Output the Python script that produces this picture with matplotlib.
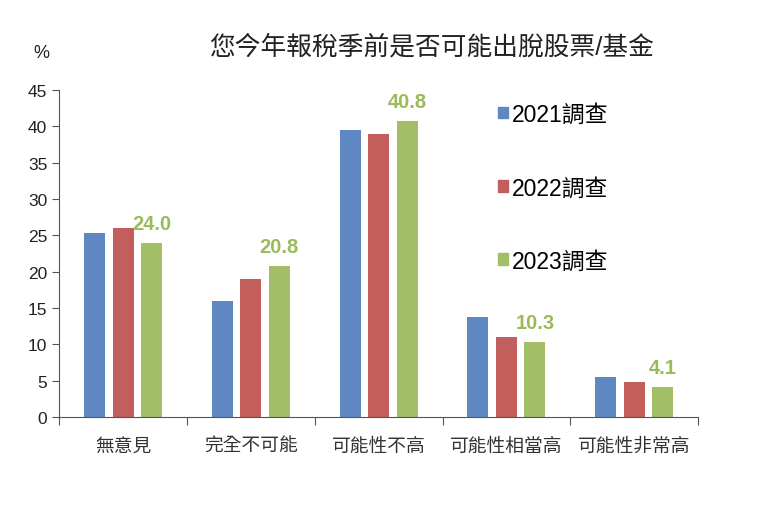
import numpy as np
import matplotlib
matplotlib.use("Agg")
import matplotlib.pyplot as plt
from matplotlib.patches import Patch

plt.rcParams["font.family"] = ["Liberation Sans", "Noto Sans CJK TC"]

categories = ["無意見", "完全不可能", "可能性不高", "可能性相當高", "可能性非常高"]
series_names = ["2021調查", "2022調查", "2023調查"]
values_2021 = [25.3, 16.0, 39.5, 13.7, 5.5]
values_2022 = [26.0, 19.0, 39.0, 11.0, 4.8]
values_2023 = [24.0, 20.8, 40.8, 10.3, 4.1]
colors = ["#5F87C2", "#C25E5B", "#A2BE66"]

fig = plt.figure(figsize=(7.58, 5.06), dpi=100)
ax = fig.add_axes([0.078, 0.174, 0.843, 0.646])

centers = np.arange(len(categories)) + 0.5
step = 0.223
width = 0.164
all_series = [values_2021, values_2022, values_2023]
for i, vals in enumerate(all_series):
    ax.bar(centers + (i - 1) * step, vals, width=width, color=colors[i])

# labels on the 2023 bars
for x, v in zip(centers + step, values_2023):
    ax.annotate(f"{v:.1f}", (x, v), xytext=(0, 7), textcoords="offset points",
                ha="center", va="bottom", fontsize=14.5, fontweight="bold",
                color="#9BBB59")

ax.set_xlim(0, len(categories))
ax.set_ylim(0, 45)
ax.set_yticks(range(0, 46, 5))
ax.set_xticks(range(len(categories) + 1))
ax.set_xticklabels([])
ax.set_xticks(centers, minor=True)
ax.set_xticklabels(categories, minor=True, fontsize=13.5, color="#333333")
ax.tick_params(axis="x", which="minor", length=0, pad=15)
ax.tick_params(axis="x", which="major", length=6, color="#555555")
ax.tick_params(axis="y", labelsize=12.5, colors="#222222", length=5)
ax.tick_params(axis="y", color="#555555")
for s in ["top", "right"]:
    ax.spines[s].set_visible(False)
for s in ["left", "bottom"]:
    ax.spines[s].set_color("#555555")

fig.text(0.054, 0.895, "%", fontsize=13, ha="center", va="center", color="#222222")
fig.text(0.57, 0.907, "您今年報稅季前是否可能出脫股票/基金", fontsize=18.5,
         ha="center", va="center", color="#222222")

handles = [Patch(color=c) for c in colors]
fig.legend(handles, series_names, loc="upper left", bbox_to_anchor=(0.657, 0.795),
           frameon=False, fontsize=16.5, handlelength=0.42, handleheight=0.42,
           handletextpad=0.2, labelspacing=2.2, borderpad=0, borderaxespad=0)

fig.savefig("out.png", dpi=100, facecolor="white")
